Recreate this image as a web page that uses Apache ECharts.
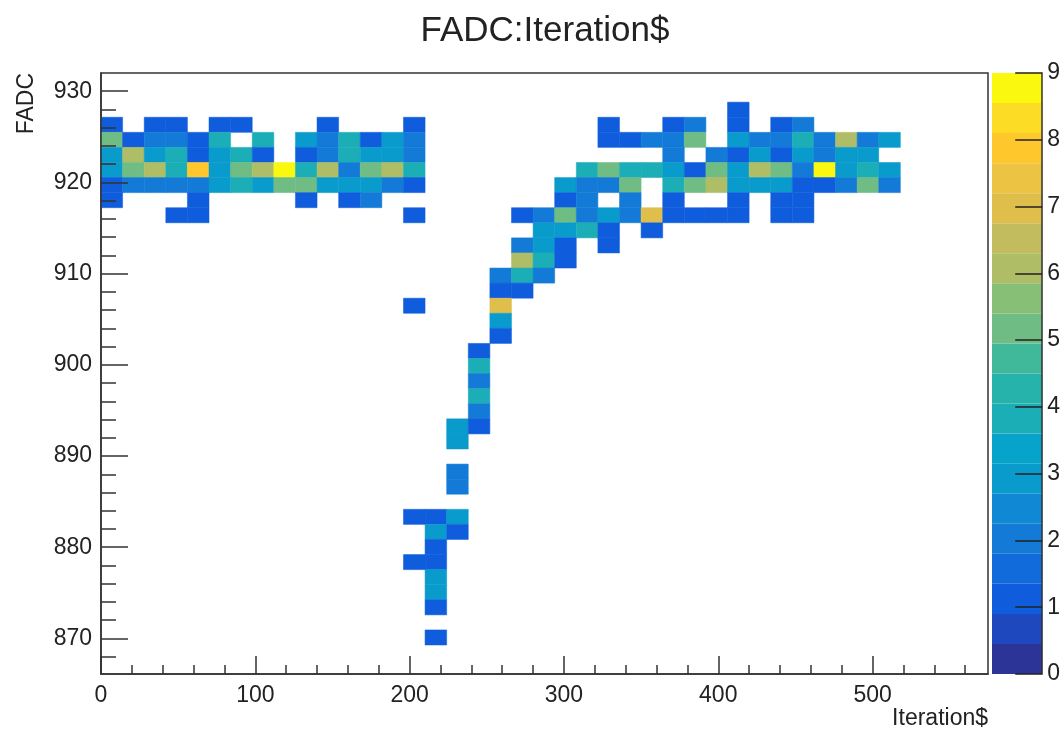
<!DOCTYPE html>
<html>
<head>
<meta charset="utf-8">
<title>FADC:Iteration$</title>
<script src="https://cdn.jsdelivr.net/npm/echarts@6/dist/echarts.min.js"></script>
<style>
    html, body { margin: 0; padding: 0; background: #fff; }
    #chart { width: 1063px; height: 733px; }
</style>
</head>
<body>
<div id="chart"></div>
<script>
// histogram binning
const xMin = 0, xMax = 574.8, xBinWidth = 14;
const yMin = 866.1, yMax = 932, yFirstEdge = 865.97, yBinHeight = 1.6535;

// cells per y bin, each one is [x bin, entries]
const row37 = [[29,1]];
const row36 = [[0,1],[2,1],[3,1],[5,1],[6,1],[10,1],[14,1],[23,1],[26,1],[27,2],[29,1],[31,1],[32,2]];
const row35 = [[0,5],[1,1],[2,2],[3,2],[4,1],[5,4],[7,4],[9,3],[10,2],[11,4],[12,1],[13,3],[14,2],
    [23,1],[24,1],[25,2],[26,2],[27,5],[29,3],[30,2],[31,2],[32,4],[33,2],[34,6],[35,2],[36,3]];
const row34 = [[0,3],[1,6],[2,3],[3,4],[4,1],[5,3],[6,4],[7,1],[9,1],[10,2],[11,4],[12,3],[13,3],[14,2],
    [26,2],[28,2],[29,1],[30,3],[31,1],[32,3],[33,2],[34,3],[35,3]];
const row33 = [[0,3],[1,5],[2,6],[3,4],[4,8],[5,3],[6,5],[7,6],[8,9],[9,4],[10,6],[11,2],[12,5],[13,6],[14,4],
    [22,4],[23,5],[24,4],[25,4],[26,3],[27,1],[28,5],[29,3],[30,6],[31,5],[32,2],[33,9],[34,3],[35,4],[36,3]];
const row32 = [[0,1],[1,2],[2,2],[3,2],[4,2],[5,3],[6,4],[7,3],[8,5],[9,5],[10,3],[11,3],[12,3],[13,2],[14,1],
    [21,3],[22,2],[23,2],[24,5],[26,4],[27,5],[28,6],[29,3],[30,3],[31,3],[32,1],[33,1],[34,2],[35,5],[36,2]];
const row31 = [[0,1],[4,1],[9,1],[11,1],[12,2],[21,1],[22,2],[24,2],[26,1],[29,1],[31,1],[32,1]];
const row30 = [[3,1],[4,1],[14,1],[19,1],[20,2],[21,5],[22,2],[23,3],[24,2],[25,7],[26,1],[27,1],[28,1],[29,1],[31,1],[32,1]];
const row29 = [[20,3],[21,3],[22,4],[23,1],[25,1]];
const row28 = [[19,2],[20,3],[21,1],[23,1]];
const row27 = [[19,6],[20,4],[21,1]];
const row26 = [[18,2],[19,4],[20,2]];
const row25 = [[18,1],[19,1]];
const row24 = [[14,1],[18,7]];
const row23 = [[18,3]];
const row22 = [[18,1]];
const row21 = [[17,1]];
const row20 = [[17,4]];
const row19 = [[17,2]];
const row18 = [[17,4]];
const row17 = [[17,2]];
const row16 = [[16,3],[17,1]];
const row15 = [[16,3]];
const row13 = [[16,2]];
const row12 = [[16,2]];
const row10 = [[14,1],[15,1],[16,3]];
const row9 = [[15,3],[16,1]];
const row8 = [[15,1]];
const row7 = [[14,1],[15,1]];
const row6 = [[15,3]];
const row5 = [[15,3]];
const row4 = [[15,1]];
const row2 = [[15,1]];

const rowList = [
    [37,row37],[36,row36],[35,row35],[34,row34],[33,row33],[32,row32],[31,row31],[30,row30],[29,row29],
    [28,row28],[27,row27],[26,row26],[25,row25],[24,row24],[23,row23],[22,row22],[21,row21],[20,row20],
    [19,row19],[18,row18],[17,row17],[16,row16],[15,row15],[13,row13],[12,row12],[10,row10],[9,row9],
    [8,row8],[7,row7],[6,row6],[5,row5],[4,row4],[2,row2]
];

// tick labels
const xMajorTicks = [0, 100, 200, 300, 400, 500];
const xMinorTicks = [20,40,60,80,120,140,160,180,220,240,260,280,320,340,360,380,420,440,460,480,520,540,560];
const yMajorTicks = [870, 880, 890, 900, 910, 920, 930];
const yMinorTicks = [868,872,874,876,878,882,884,886,888,892,894,896,898,902,904,906,908,912,914,916,918,922,924,926,928];
const zTicks = [0, 1, 2, 3, 4, 5, 6, 7, 8, 9];

// 20 contour levels of the colour bar, bottom to top
const zMax = 9, zStep = 0.45;
const zColors = [
    "#2d3498", "#1e48bd", "#0f5cdd", "#116bda", "#137ad7",
    "#1188d4", "#0a9bcd", "#06a4ca", "#1caeb6", "#26b3ac",
    "#40b99b", "#6fbd84", "#87bf77", "#afbd67", "#c2bc5f",
    "#e0be4c", "#ecc342", "#fec82c", "#fcdc24", "#fbf80f"
];

const textColor = "#222";
const lineColor = "#333";

function levelOf(value) {
    return Math.min(Math.floor(value / zStep), zColors.length - 1);
}

let cellData = [];
for (let r of rowList) {
    for (let c of r[1]) {
        cellData.push([c[0], r[0], c[1]]);
    }
}

let eChart = echarts.init(document.getElementById("chart"));
eChart.setOption({
    animation: false,
    title: {
        text: "FADC:Iteration$",
        left: 540,
        top: 9,
        textAlign: "center",
        textStyle: { fontFamily: "Liberation Sans", fontSize: 35, fontWeight: "normal", color: textColor }
    },
    grid: [
        { left: 101, top: 73, width: 887, height: 601, show: true, borderColor: lineColor, borderWidth: 1.5, backgroundColor: "#fff" },
        { left: 992, top: 73, width: 51, height: 601 }
    ],
    xAxis: [
        {
            type: "value", gridIndex: 0, min: xMin, max: xMax, position: "bottom", z: 5,
            name: "Iteration$", nameLocation: "end", nameGap: 0,
            nameTextStyle: { fontFamily: "Liberation Sans", fontSize: 23, color: textColor, align: "right", verticalAlign: "top", padding: [33, 0, 0, 0] },
            splitLine: { show: false },
            axisLine: { onZero: false, lineStyle: { color: lineColor, width: 1.5 } },
            axisTick: { inside: true, length: 18, customValues: xMajorTicks, lineStyle: { color: lineColor, width: 1.5 } },
            axisLabel: { customValues: xMajorTicks, margin: 10, fontFamily: "Liberation Sans", fontSize: 23, color: textColor }
        },
        {
            type: "value", gridIndex: 0, min: xMin, max: xMax, position: "bottom", z: 5,
            splitLine: { show: false },
            axisLine: { show: false },
            axisTick: { inside: true, length: 9, customValues: xMinorTicks, lineStyle: { color: lineColor, width: 1.5 } },
            axisLabel: { show: false }
        },
        { type: "value", gridIndex: 1, min: 0, max: 1, show: false }
    ],
    yAxis: [
        {
            type: "value", gridIndex: 0, min: yMin, max: yMax, position: "left", z: 5,
            name: "FADC", nameLocation: "end", nameGap: 0, nameRotate: 90,
            nameTextStyle: { fontFamily: "Liberation Sans", fontSize: 23, color: textColor, align: "right", verticalAlign: "bottom", padding: [0, 0, 63, 0] },
            splitLine: { show: false },
            axisLine: { onZero: false, lineStyle: { color: lineColor, width: 1.5 } },
            axisTick: { inside: true, length: 27, customValues: yMajorTicks, lineStyle: { color: lineColor, width: 1.5 } },
            axisLabel: { customValues: yMajorTicks, margin: 9, fontFamily: "Liberation Sans", fontSize: 23, color: textColor }
        },
        {
            type: "value", gridIndex: 0, min: yMin, max: yMax, position: "left", z: 5,
            splitLine: { show: false },
            axisLine: { show: false },
            axisTick: { inside: true, length: 15, customValues: yMinorTicks, lineStyle: { color: lineColor, width: 1.5 } },
            axisLabel: { show: false }
        },
        {
            type: "value", gridIndex: 1, min: 0, max: zMax, position: "right", z: 5,
            splitLine: { show: false },
            axisLine: { onZero: false, lineStyle: { color: lineColor, width: 1.5 } },
            axisTick: { inside: true, length: 27, customValues: zTicks, lineStyle: { color: "#222", width: 1.5 } },
            axisLabel: { customValues: zTicks, margin: 5, fontFamily: "Liberation Sans", fontSize: 23, color: textColor }
        }
    ],
    series: [
        {
            name: "cells",
            type: "custom",
            xAxisIndex: 0,
            yAxisIndex: 0,
            data: cellData,
            encode: { x: 0, y: 1 },
            renderItem(params, api) {
                let col = api.value(0);
                let row = api.value(1);
                let fill = zColors[levelOf(api.value(2))];
                let p0 = api.coord([col * xBinWidth, yFirstEdge + (row + 1) * yBinHeight]);
                let p1 = api.coord([(col + 1) * xBinWidth, yFirstEdge + row * yBinHeight]);
                return {
                    type: "rect",
                    shape: { x: p0[0], y: p0[1], width: p1[0] - p0[0], height: p1[1] - p0[1] },
                    style: { fill: fill, stroke: fill, lineWidth: 0.5 }
                };
            }
        },
        {
            name: "palette",
            type: "custom",
            xAxisIndex: 2,
            yAxisIndex: 2,
            data: zColors.map((color, i) => [i]),
            encode: { y: 0 },
            renderItem(params, api) {
                let level = api.value(0);
                let p0 = api.coord([0, (level + 1) * zStep]);
                let p1 = api.coord([1, level * zStep]);
                return {
                    type: "rect",
                    shape: { x: p0[0], y: p0[1], width: p1[0] - p0[0], height: p1[1] - p0[1] },
                    style: { fill: zColors[level] }
                };
            }
        }
    ]
}, true);
</script>
</body>
</html>
